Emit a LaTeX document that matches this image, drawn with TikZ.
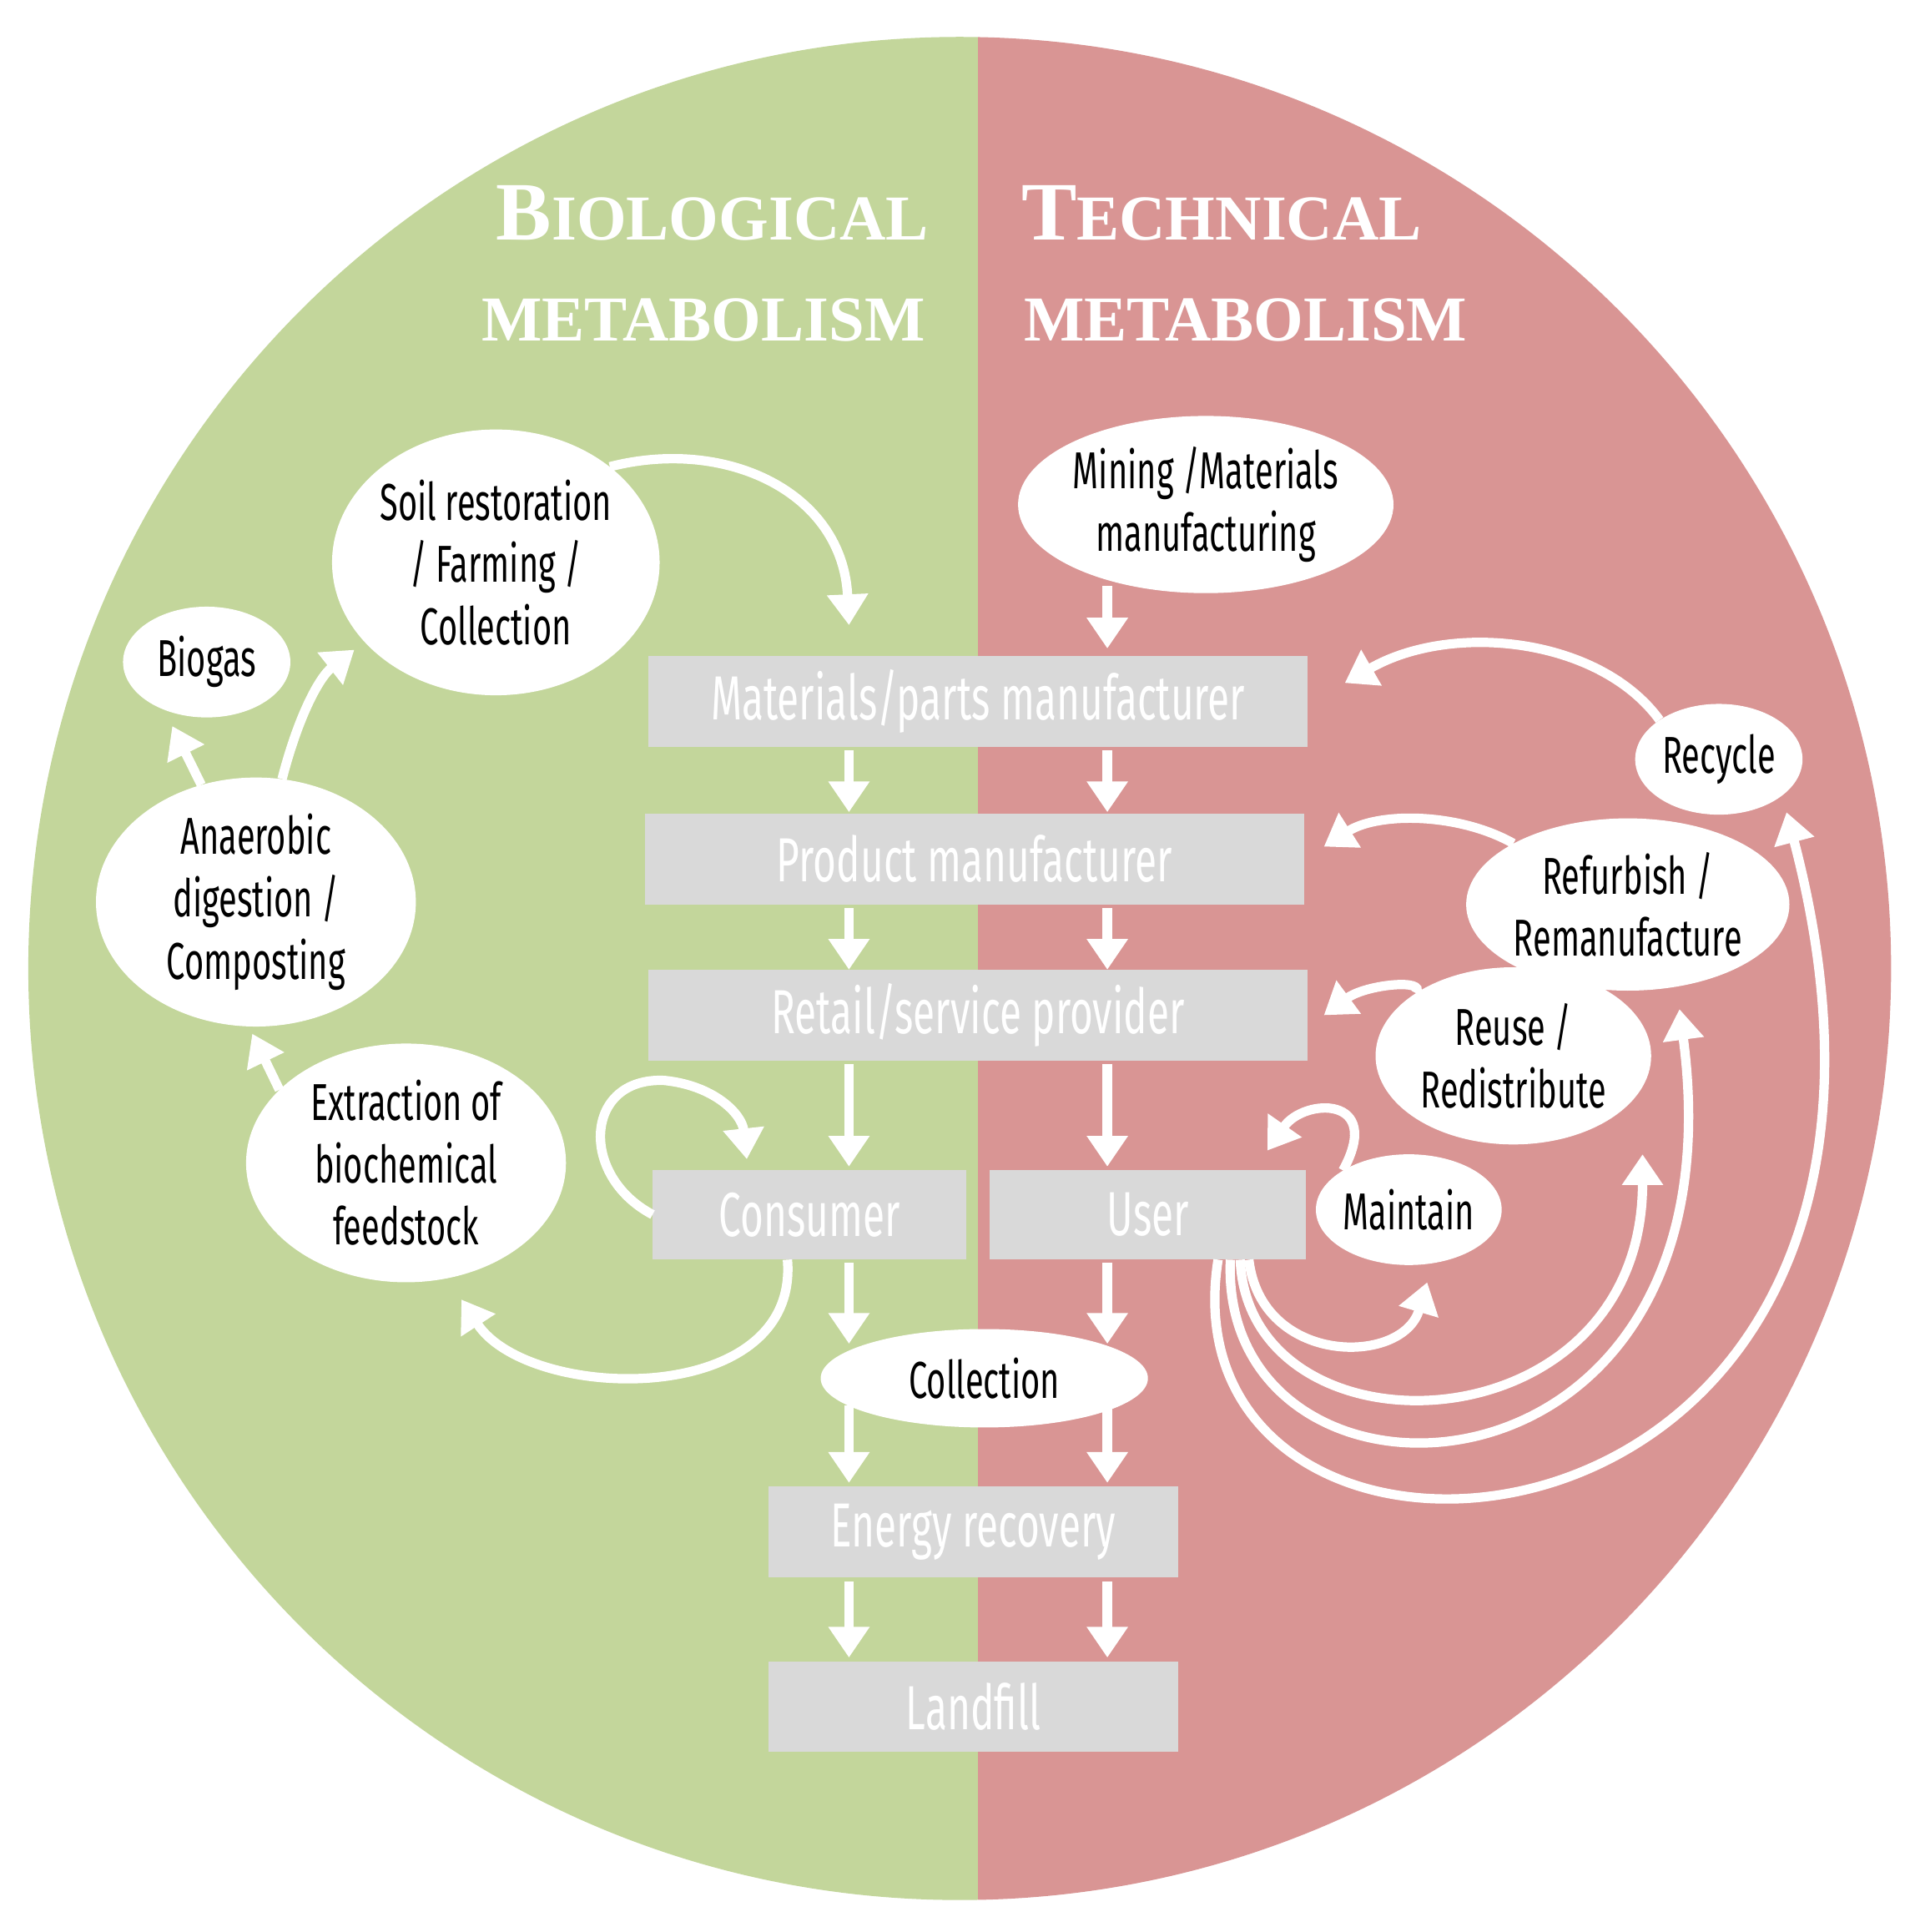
\documentclass[tikz,border=0pt]{standalone}
\usepackage{fontspec}
\setmainfont{Liberation Serif}
\newfontfamily\cond[FakeStretch=0.64]{Fira Sans}
\usetikzlibrary{arrows.meta,shapes.geometric}
\definecolor{bio}{HTML}{C3D69B}
\definecolor{tec}{HTML}{D99594}
\definecolor{boxg}{HTML}{D9D9D9}
\begin{document}
\begin{tikzpicture}[x=0.05cm,y=-0.05cm,
  box/.style={fill=boxg,inner sep=0,text=white,font=\cond\fontsize{72}{76}\selectfont},
  ell/.style={ellipse,fill=white,inner sep=0,align=center,font=\cond\fontsize{60}{72}\selectfont},
  arr/.style={draw=white,line width=0.38cm,-{Triangle[width=1.6cm,length=1.25cm]}},
  ttl/.style={text=white,font=\bfseries\fontsize{74}{80}\selectfont,inner sep=0}]
\useasboundingbox (0,0) rectangle (1560,1570);
\begin{scope}
\clip (780,787) circle[radius=757];
\fill[bio] (0,0) rectangle (795,1570);
\fill[tec] (795,0) rectangle (1560,1570);
\end{scope}
% titles
\node[ttl,anchor=base east] (t1) at (755,195) {{\fontsize{96}{96}\selectfont B}IOLOGICAL};
\node[ttl,anchor=base east] (t2) at (752,277) {METABOLISM};
\node[ttl,anchor=base west] (t3) at (830,195) {{\fontsize{96}{96}\selectfont T}ECHNICAL};
\node[ttl,anchor=base west] (t4) at (832,277) {METABOLISM};
% boxes
\node[box,minimum width=26.8cm,minimum height=3.7cm] (mat) at (795,570) {Materials/parts manufacturer};
\node[box,minimum width=26.8cm,minimum height=3.7cm] (prod) at (792,698) {Product manufacturer};
\node[box,minimum width=26.8cm,minimum height=3.7cm] (ret) at (795,825) {Retail/service provider};
\node[box,minimum width=12.75cm,minimum height=3.65cm] (cons) at (658,987) {Consumer};
\node[box,minimum width=12.85cm,minimum height=3.65cm] (user) at (933,987) {User};
\node[box,minimum width=16.65cm,minimum height=3.7cm] (en) at (791,1245) {Energy recovery};
\node[box,minimum width=16.65cm,minimum height=3.65cm] (land) at (791,1387) {Landfill};
% ellipses
\node[ell,minimum width=13cm,minimum height=10.8cm] (soil) at (403,457) {Soil restoration\\/ Farming /\\Collection};
\node[ell,minimum width=6.8cm,minimum height=4.5cm] (bio) at (168,538) {Biogas};
\node[ell,minimum width=13cm,minimum height=10cm] (ana) at (208,733) {Anaerobic\\digestion /\\Composting};
\node[ell,minimum width=13cm,minimum height=9.7cm] (ext) at (330,945) {Extraction of\\biochemical\\feedstock};
\node[ell,minimum width=14.8cm,minimum height=7.2cm] (min) at (980,410) {Mining /Materials\\manufacturing};
\node[ell,minimum width=6.8cm,minimum height=4.5cm] (rec) at (1397,617) {Recycle};
\node[ell,minimum width=13cm,minimum height=7cm] (ref) at (1323,735) {Refurbish /\\Remanufacture};
\node[ell,minimum width=11.2cm,minimum height=7.2cm] (reu) at (1230,858) {Reuse /\\Redistribute};
\node[ell,minimum width=6.8cm,minimum height=4.5cm] (mai) at (1145,983) {Maintain};
\node[ell,minimum width=13.3cm,minimum height=4cm] (col) at (800,1120) {Collection};
% coordinates for free ends
\coordinate (a1) at (690,508); \coordinate (a2) at (140,590); \coordinate (a3) at (288,528);
\coordinate (a4) at (205,840); \coordinate (a5) at (607,942); \coordinate (a6) at (375,1056);
\coordinate (b1) at (1093,555); \coordinate (b2) at (1076,688); \coordinate (b3) at (1076,825);
\coordinate (b4) at (1030,935); \coordinate (b5) at (1160,1042); \coordinate (b6) at (1335,938);
\coordinate (b7) at (1365,820); \coordinate (b8) at (1452,660);
% vertical arrows
\foreach \x in {690,900}{
  \draw[arr] (\x,610) -- (\x,660);
  \draw[arr] (\x,738) -- (\x,788);
  \draw[arr] (\x,865) -- (\x,948);
  \draw[arr] (\x,1026) -- (\x,1092);
  \draw[arr] (\x,1142) -- (\x,1205);
  \draw[arr] (\x,1285) -- (\x,1347);
}
\draw[arr] (min.south -| 900,0) ++(0,-6) -- (900,527);
% biological curves
\draw[arr] (soil.40) .. controls (590,355) and (685,400) .. (a1);
\draw[arr] (ana.115) -- (a2);
\draw[arr] (ana.78) .. controls (243,580) and (260,550) .. (a3);
\draw[arr] (ext.150) -- (a4);
\draw[arr] (cons.west) .. controls (470,955) and (475,875) .. (540,878) .. controls (580,882) and (603,905) .. (a5);
\draw[arr] (cons.south -| 640,0) .. controls (650,1145) and (430,1140) .. (a6);
% technical curves
\draw[arr] (rec.north west) .. controls (1300,518) and (1180,505) .. (b1);
\draw[arr] (ref.north west) .. controls (1185,660) and (1120,660) .. (b2);
\draw[arr] (reu.north west) .. controls (1160,795) and (1110,800) .. (b3);
\draw[arr] (mai.north west) .. controls (1125,890) and (1060,892) .. (b4);
\draw[arr] (user.south -| 1015,0) .. controls (1025,1110) and (1140,1110) .. (b5);
\draw[arr] (user.south -| 1008,0) .. controls (1015,1190) and (1335,1180) .. (b6);
\draw[arr] (user.south -| 1000,0) .. controls (990,1250) and (1420,1240) .. (b7);
\draw[arr] (user.south -| 990,0) .. controls (940,1340) and (1620,1300) .. (b8);
\end{tikzpicture}
\end{document}
